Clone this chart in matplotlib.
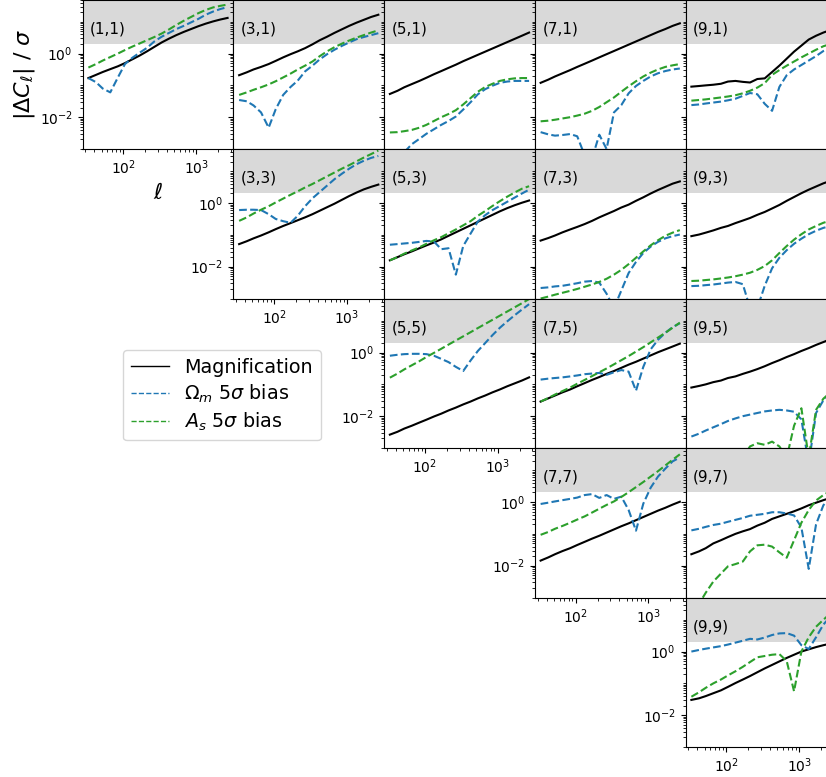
import matplotlib
matplotlib.use("Agg")
import numpy as np
import matplotlib.pyplot as plt
from matplotlib.lines import Line2D
from matplotlib import ticker

# multipole bins
ell = [33, 42, 52, 66, 84, 105, 133, 168, 211, 266, 336, 424, 534, 674, 850,
       1072, 1352, 1705, 2150, 2700]

# log10(|dC_l| / sigma), one list per panel (i,j) and curve
mag_11 = [-0.77, -0.67, -0.58, -0.49, -0.40, -0.30, -0.18, -0.06, 0.07, 0.21, 0.35, 0.47, 0.58, 0.68, 0.77, 0.86, 0.94, 1.01, 1.07, 1.12]
om_11 = [-0.77, -0.90, -1.10, -1.22, -0.75, -0.33, -0.13, 0.03, 0.18, 0.38, 0.53, 0.65, 0.77, 0.87, 0.98, 1.09, 1.22, 1.32, 1.40, 1.46]
as_11 = [-0.44, -0.33, -0.22, -0.11, 0.00, 0.11, 0.22, 0.32, 0.42, 0.52, 0.63, 0.76, 0.90, 1.03, 1.15, 1.27, 1.37, 1.45, 1.50, 1.54]

mag_31 = [-0.68, -0.59, -0.50, -0.42, -0.33, -0.23, -0.12, -0.02, 0.07, 0.17, 0.29, 0.42, 0.53, 0.65, 0.76, 0.87, 0.97, 1.06, 1.15, 1.22]
om_31 = [-1.46, -1.50, -1.63, -1.85, -2.33, -1.75, -1.30, -1.05, -0.85, -0.56, -0.38, -0.18, -0.02, 0.12, 0.24, 0.35, 0.45, 0.52, 0.58, 0.64]
as_31 = [-1.30, -1.22, -1.14, -1.06, -0.97, -0.87, -0.75, -0.63, -0.50, -0.38, -0.25, -0.08, 0.07, 0.20, 0.31, 0.41, 0.50, 0.58, 0.66, 0.73]

mag_51 = [-1.27, -1.17, -1.06, -0.96, -0.86, -0.76, -0.65, -0.55, -0.45, -0.35, -0.24, -0.14, -0.04, 0.06, 0.16, 0.26, 0.36, 0.46, 0.56, 0.66]
om_51 = [-3.60, -3.30, -3.10, -2.85, -2.68, -2.52, -2.38, -2.24, -2.12, -1.98, -1.76, -1.53, -1.28, -1.12, -1.01, -0.92, -0.88, -0.86, -0.86, -0.86]
as_51 = [-2.48, -2.47, -2.44, -2.40, -2.33, -2.24, -2.12, -2.00, -1.90, -1.78, -1.60, -1.40, -1.20, -1.05, -0.95, -0.86, -0.81, -0.78, -0.77, -0.77]

mag_71 = [-0.92, -0.82, -0.72, -0.62, -0.52, -0.42, -0.32, -0.22, -0.12, -0.02, 0.08, 0.18, 0.28, 0.38, 0.48, 0.58, 0.68, 0.77, 0.87, 0.95]
om_71 = [-2.47, -2.54, -2.58, -2.56, -2.53, -2.60, -3.20, -3.30, -2.55, -3.00, -1.85, -1.62, -1.25, -1.02, -0.86, -0.72, -0.62, -0.55, -0.50, -0.47]
as_71 = [-2.13, -2.11, -2.08, -2.04, -2.00, -1.95, -1.89, -1.80, -1.68, -1.53, -1.38, -1.20, -1.03, -0.87, -0.72, -0.60, -0.50, -0.42, -0.37, -0.33]

mag_91 = [-1.04, -1.02, -1.00, -0.98, -0.95, -0.88, -0.86, -0.89, -0.91, -0.80, -0.78, -0.58, -0.38, -0.16, 0.06, 0.25, 0.44, 0.56, 0.66, 0.74]
om_91 = [-1.62, -1.60, -1.57, -1.54, -1.51, -1.47, -1.42, -1.33, -1.24, -1.28, -1.58, -1.80, -1.05, -0.68, -0.50, -0.36, -0.22, -0.08, 0.08, 0.18]
as_91 = [-1.48, -1.46, -1.44, -1.41, -1.38, -1.35, -1.31, -1.25, -1.17, -1.07, -0.93, -0.67, -0.52, -0.38, -0.25, -0.12, 0.00, 0.12, 0.23, 0.30]

mag_33 = [-1.29, -1.20, -1.11, -1.02, -0.92, -0.82, -0.72, -0.63, -0.54, -0.45, -0.35, -0.24, -0.13, -0.02, 0.10, 0.22, 0.33, 0.43, 0.51, 0.58]
om_33 = [-0.22, -0.21, -0.21, -0.22, -0.35, -0.50, -0.57, -0.62, -0.40, -0.10, 0.15, 0.35, 0.55, 0.75, 0.92, 1.08, 1.22, 1.33, 1.42, 1.48]
as_33 = [-0.56, -0.45, -0.33, -0.21, -0.10, 0.02, 0.14, 0.26, 0.37, 0.49, 0.60, 0.72, 0.84, 0.96, 1.08, 1.19, 1.31, 1.43, 1.54, 1.65]

mag_53 = [-1.80, -1.70, -1.61, -1.52, -1.42, -1.33, -1.24, -1.14, -1.03, -0.92, -0.81, -0.70, -0.59, -0.48, -0.37, -0.26, -0.16, -0.07, 0.01, 0.08]
om_53 = [-1.31, -1.29, -1.27, -1.25, -1.22, -1.19, -1.21, -1.45, -1.42, -2.25, -1.35, -0.96, -0.58, -0.38, -0.22, -0.09, 0.04, 0.17, 0.30, 0.42]
as_53 = [-1.80, -1.70, -1.59, -1.49, -1.39, -1.28, -1.17, -1.07, -0.95, -0.83, -0.70, -0.57, -0.40, -0.25, -0.09, 0.06, 0.20, 0.33, 0.45, 0.53]

mag_73 = [-1.18, -1.10, -1.02, -0.92, -0.83, -0.75, -0.66, -0.56, -0.45, -0.35, -0.25, -0.14, -0.05, 0.07, 0.18, 0.30, 0.41, 0.51, 0.61, 0.68]
om_73 = [-2.67, -2.65, -2.62, -2.60, -2.56, -2.52, -2.47, -2.45, -2.50, -2.85, -3.30, -2.75, -2.20, -1.85, -1.57, -1.37, -1.22, -1.11, -1.04, -0.99]
as_73 = [-3.00, -2.94, -2.88, -2.82, -2.76, -2.70, -2.63, -2.56, -2.48, -2.38, -2.25, -2.10, -1.92, -1.72, -1.52, -1.33, -1.17, -1.03, -0.93, -0.85]

mag_93 = [-1.04, -0.99, -0.93, -0.86, -0.78, -0.72, -0.63, -0.55, -0.47, -0.37, -0.28, -0.17, -0.06, 0.07, 0.19, 0.31, 0.42, 0.52, 0.62, 0.70]
om_93 = [-2.61, -2.60, -2.58, -2.56, -2.53, -2.50, -2.48, -2.55, -3.30, -3.30, -2.60, -2.05, -1.72, -1.48, -1.28, -1.12, -0.98, -0.87, -0.78, -0.72]
as_93 = [-2.45, -2.44, -2.42, -2.40, -2.37, -2.34, -2.30, -2.25, -2.19, -2.10, -1.98, -1.80, -1.57, -1.35, -1.15, -0.98, -0.83, -0.72, -0.62, -0.55]

mag_55 = [-2.58, -2.49, -2.39, -2.30, -2.20, -2.11, -2.01, -1.92, -1.82, -1.73, -1.63, -1.54, -1.44, -1.35, -1.25, -1.16, -1.06, -0.97, -0.88, -0.78]
om_55 = [-0.10, -0.07, -0.05, -0.04, -0.04, -0.05, -0.10, -0.20, -0.30, -0.45, -0.58, -0.25, 0.05, 0.30, 0.55, 0.78, 0.98, 1.17, 1.35, 1.52]
as_55 = [-0.79, -0.66, -0.53, -0.40, -0.27, -0.14, -0.01, 0.12, 0.25, 0.38, 0.51, 0.64, 0.77, 0.90, 1.03, 1.16, 1.29, 1.42, 1.55, 1.68]

mag_75 = [-1.54, -1.44, -1.35, -1.25, -1.16, -1.06, -0.96, -0.86, -0.77, -0.67, -0.58, -0.48, -0.38, -0.29, -0.19, -0.09, 0.01, 0.10, 0.19, 0.28]
om_75 = [-0.85, -0.82, -0.80, -0.78, -0.75, -0.72, -0.68, -0.66, -0.64, -0.70, -0.62, -0.55, -0.60, -1.20, -0.45, 0.10, 0.40, 0.62, 0.80, 0.92]
as_75 = [-1.54, -1.43, -1.32, -1.21, -1.10, -0.98, -0.86, -0.74, -0.62, -0.50, -0.37, -0.24, -0.11, 0.03, 0.17, 0.32, 0.47, 0.62, 0.78, 0.94]

mag_95 = [-1.10, -1.05, -1.00, -0.93, -0.88, -0.80, -0.75, -0.67, -0.60, -0.52, -0.43, -0.33, -0.24, -0.14, -0.05, 0.05, 0.14, 0.24, 0.33, 0.42]
om_95 = [-2.64, -2.55, -2.45, -2.35, -2.25, -2.15, -2.07, -2.00, -1.95, -1.90, -1.85, -1.82, -1.80, -1.82, -1.86, -2.10, -3.50, -1.90, -1.50, -1.30]
as_95 = [-4.0, -4.0, -4.0, -4.0, -4.0, -4.0, -4.0, -3.3, -2.95, -2.85, -2.9, -2.8, -2.95, -3.3, -2.3, -1.75, -3.3, -1.8, -1.45, -1.25]

mag_77 = [-1.84, -1.74, -1.64, -1.54, -1.45, -1.35, -1.25, -1.15, -1.06, -0.96, -0.86, -0.76, -0.67, -0.57, -0.47, -0.37, -0.27, -0.18, -0.08, 0.01]
om_77 = [-0.06, -0.02, 0.02, 0.06, 0.10, 0.14, 0.22, 0.25, 0.13, 0.22, 0.10, 0.17, -0.25, -0.90, -0.05, 0.45, 0.80, 1.05, 1.28, 1.40]
as_77 = [-1.03, -0.94, -0.84, -0.75, -0.65, -0.55, -0.45, -0.33, -0.21, -0.09, 0.02, 0.16, 0.31, 0.47, 0.63, 0.80, 0.97, 1.15, 1.33, 1.50]

mag_97 = [-1.64, -1.55, -1.45, -1.30, -1.20, -1.10, -1.00, -0.92, -0.85, -0.74, -0.65, -0.53, -0.45, -0.37, -0.29, -0.20, -0.10, -0.02, 0.06, 0.13]
om_97 = [-0.89, -0.84, -0.78, -0.72, -0.68, -0.62, -0.56, -0.50, -0.43, -0.40, -0.37, -0.32, -0.32, -0.36, -0.42, -0.80, -2.10, -0.70, -0.10, 0.15]
as_97 = [-3.6, -3.2, -2.85, -2.50, -2.25, -2.02, -1.95, -1.87, -1.55, -1.36, -1.34, -1.40, -1.58, -1.75, -1.20, -0.65, -0.25, 0.05, 0.22, 0.35]

mag_99 = [-1.52, -1.47, -1.40, -1.31, -1.22, -1.11, -0.99, -0.88, -0.77, -0.65, -0.53, -0.42, -0.31, -0.20, -0.10, 0.00, 0.07, 0.14, 0.20, 0.25]
om_99 = [0.00, 0.05, 0.09, 0.13, 0.17, 0.22, 0.28, 0.34, 0.40, 0.38, 0.44, 0.52, 0.57, 0.58, 0.50, 0.20, 0.08, 0.45, 0.85, 1.10]
as_99 = [-1.42, -1.28, -1.14, -1.00, -0.88, -0.75, -0.62, -0.48, -0.33, -0.18, -0.14, -0.10, -0.08, -0.30, -1.25, 0.00, 0.45, 0.78, 1.00, 1.20]

bins = [1, 3, 5, 7, 9]
panels = {
    (1, 1): (mag_11, om_11, as_11), (3, 1): (mag_31, om_31, as_31),
    (5, 1): (mag_51, om_51, as_51), (7, 1): (mag_71, om_71, as_71),
    (9, 1): (mag_91, om_91, as_91),
    (3, 3): (mag_33, om_33, as_33), (5, 3): (mag_53, om_53, as_53),
    (7, 3): (mag_73, om_73, as_73), (9, 3): (mag_93, om_93, as_93),
    (5, 5): (mag_55, om_55, as_55), (7, 5): (mag_75, om_75, as_75),
    (9, 5): (mag_95, om_95, as_95),
    (7, 7): (mag_77, om_77, as_77), (9, 7): (mag_97, om_97, as_97),
    (9, 9): (mag_99, om_99, as_99),
}

W, H = 826, 777
fig = plt.figure(figsize=(W / 100, H / 100), dpi=100)

x0, dx = 82.5, 150.75   # pixel layout of the grid
y0, dy = -0.5, 149.5

for (i, j), (mag, om, a_s) in panels.items():
    c = bins.index(i)
    r = bins.index(j)
    left = (x0 + c * dx) / W
    bottom = (H - (y0 + (r + 1) * dy)) / H
    ax = fig.add_axes([left, bottom, dx / W, dy / H])
    ax.set_xscale('log')
    ax.set_yscale('log')
    ax.axhspan(2, 1e3, color='0.85', lw=0, zorder=0)
    ax.plot(ell, 10 ** np.array(mag), color='k', lw=1.5)
    ax.plot(ell, 10 ** np.array(om), color='tab:blue', ls='--', lw=1.5)
    ax.plot(ell, 10 ** np.array(a_s), color='tab:green', ls='--', lw=1.5)
    ax.set_xlim(27.4, 3230)
    ax.set_ylim(1e-3, 50)
    # every other decade labelled, the rest as minor ticks
    ax.yaxis.set_major_locator(ticker.FixedLocator([1e-2, 1e0]))
    ax.yaxis.set_minor_locator(ticker.LogLocator(base=10, subs=np.arange(1, 10), numticks=20))
    ax.yaxis.set_minor_formatter(ticker.NullFormatter())
    ax.text(0.05, 0.805, f"({i},{j})", transform=ax.transAxes,
            fontsize=11, va='center', ha='left')
    if i != j:
        ax.tick_params(labelleft=False, labelbottom=False, which='both')
    if (i, j) == (1, 1):
        ax.set_ylabel(r'$|\Delta C_\ell|\ /\ \sigma$', fontsize=16, labelpad=2)
        ax.set_xlabel(r'$\ell$', fontsize=16)

handles = [Line2D([], [], color='k', lw=1),
           Line2D([], [], color='tab:blue', ls='--', lw=1),
           Line2D([], [], color='tab:green', ls='--', lw=1)]
labels = ['Magnification', r'$\Omega_m$ 5$\sigma$ bias', r'$A_s$ 5$\sigma$ bias']
fig.legend(handles, labels, loc='upper left', fontsize=13.8, labelspacing=0.3,
           bbox_to_anchor=(123 / W, 1 - 350 / H), borderaxespad=0)

fig.savefig('out.png', dpi=100)
